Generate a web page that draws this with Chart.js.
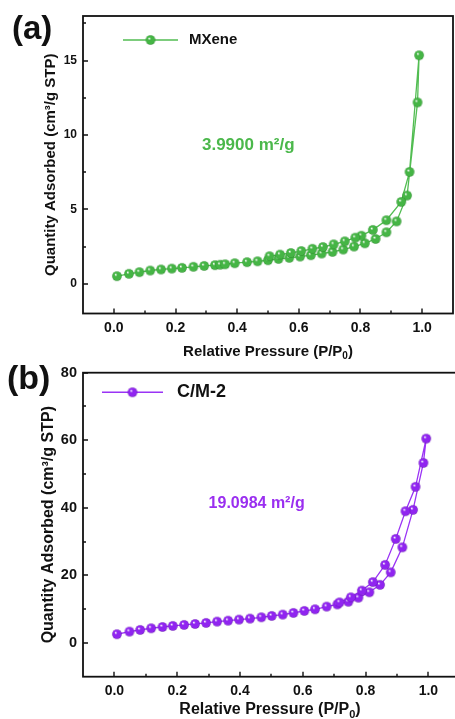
<!DOCTYPE html>
<html>
<head>
<meta charset="utf-8">
<script src="https://cdn.jsdelivr.net/npm/chart.js@4.4.0/dist/chart.umd.min.js"></script>
<style>
  html, body { margin: 0; padding: 0; background: #fff; overflow: hidden; }
  .panel { position: absolute; left: 0; }
  #wrapA { top: 0; }
  #wrapB { top: 360px; }
  canvas { display: block; }
</style>
</head>
<body>
<div class="panel" id="wrapA"><canvas id="chartA" width="455" height="360"></canvas></div>
<div class="panel" id="wrapB"><canvas id="chartB" width="462" height="359"></canvas></div>
<script>
// --- isotherm data (P/P0, cm3/g STP) ---
const pressureTicks = [0, 0.2, 0.4, 0.6, 0.8, 1.0];
const mxeneTicks = [0, 5, 10, 15];
const cmTicks = [0, 20, 40, 60, 80];

const mxeneAdsP = [0.010, 0.049, 0.083, 0.118, 0.153, 0.188, 0.221, 0.258, 0.293, 0.328, 0.345, 0.361, 0.392, 0.432, 0.466, 0.500,
  0.534, 0.569, 0.604, 0.639, 0.674, 0.709, 0.744, 0.779, 0.814, 0.849, 0.884, 0.917, 0.951, 0.985, 0.990];
const mxeneAdsQ = [0.51, 0.67, 0.78, 0.89, 0.96, 1.02, 1.07, 1.14, 1.20, 1.25, 1.28, 1.31, 1.38, 1.45, 1.51, 1.58,
  1.67, 1.74, 1.83, 1.92, 2.03, 2.14, 2.30, 2.50, 2.72, 3.01, 3.46, 4.19, 5.93, 12.19, 15.36];
const mxeneDesP = [0.959, 0.932, 0.884, 0.840, 0.803, 0.783, 0.749, 0.713, 0.678, 0.644, 0.608, 0.574, 0.539, 0.505];
const mxeneDesQ = [7.52, 5.50, 4.27, 3.62, 3.23, 3.10, 2.85, 2.65, 2.47, 2.35, 2.20, 2.07, 1.96, 1.85];

const cmAdsP = [0.008, 0.048, 0.082, 0.117, 0.153, 0.186, 0.222, 0.257, 0.292, 0.327, 0.362, 0.397, 0.432, 0.468, 0.501,
  0.536, 0.570, 0.605, 0.639, 0.676, 0.710, 0.745, 0.777, 0.812, 0.846, 0.880, 0.917, 0.951, 0.984, 0.993];
const cmAdsQ = [2.57, 3.35, 3.85, 4.34, 4.73, 5.03, 5.33, 5.62, 5.92, 6.31, 6.60, 6.90, 7.20, 7.59, 7.99,
  8.38, 8.88, 9.47, 9.96, 10.75, 11.40, 12.20, 13.40, 15.00, 17.20, 20.90, 28.30, 39.40, 53.30, 60.50];
const cmDesP = [0.959, 0.927, 0.896, 0.862, 0.823, 0.788, 0.753, 0.717];
const cmDesQ = [46.2, 39.0, 30.8, 23.1, 18.0, 15.5, 13.5, 12.0];

const FONT = '"Liberation Sans", Arial, Helvetica, sans-serif';

// 3D-looking ball used as point marker
function makeBall(base, dark, r) {
  const s = Math.ceil(r * 2 + 2);
  const c = document.createElement('canvas');
  c.width = c.height = s;
  const g = c.getContext('2d');
  const cx = s / 2, cy = s / 2;
  const grad = g.createRadialGradient(cx - r * 0.3, cy - r * 0.35, r * 0.05, cx, cy, r);
  grad.addColorStop(0, '#ffffff');
  grad.addColorStop(0.3, base);
  grad.addColorStop(0.85, base);
  grad.addColorStop(1, dark);
  g.fillStyle = grad;
  g.beginPath();
  g.arc(cx, cy, r, 0, Math.PI * 2);
  g.fill();
  return c;
}

function toPoints(px, qy) {
  return px.map((p, i) => ({ x: p, y: qy[i] }));
}

// frame + inward ticks (major and minor)
const isoFrame = {
  id: 'isoFrame',
  afterDraw(chart) {
    const { ctx, chartArea: a, scales: { x, y } } = chart;
    ctx.save();
    ctx.strokeStyle = '#111';
    ctx.lineWidth = 1.8;
    ctx.strokeRect(a.left, a.top, a.right - a.left, a.bottom - a.top);
    ctx.lineWidth = 1.4;
    ctx.beginPath();
    const xt = x.ticks.map(t => t.value);
    const yt = y.ticks.map(t => t.value);
    const xm = xt.slice(1).map((v, i) => (v + xt[i]) / 2);
    const ym = yt.slice(1).map((v, i) => (v + yt[i]) / 2);
    const yStep = yt[1] - yt[0];
    if (yt[yt.length - 1] + yStep / 2 < y.max) ym.push(yt[yt.length - 1] + yStep / 2);
    const tx = (v, len) => {
      const px = Math.round(x.getPixelForValue(v));
      ctx.moveTo(px, a.bottom);
      ctx.lineTo(px, a.bottom - len);
    };
    const ty = (v, len) => {
      const py = Math.round(y.getPixelForValue(v));
      ctx.moveTo(a.left, py);
      ctx.lineTo(a.left + len, py);
    };
    xt.forEach(v => tx(v, 5));
    xm.forEach(v => tx(v, 3));
    yt.forEach(v => ty(v, 5));
    ym.forEach(v => ty(v, 3));
    ctx.stroke();
    ctx.restore();
  }
};

// panel letter, axis titles, legend, BET label
const isoDecor = {
  id: 'isoDecor',
  afterDraw(chart, args, o) {
    const { ctx, chartArea: a, scales: { x, y } } = chart;
    const ds = chart.data.datasets[0];
    ctx.save();
    ctx.fillStyle = '#111';
    ctx.textBaseline = 'middle';
    ctx.textAlign = 'left';

    ctx.font = `bold ${o.letterSize}px ${FONT}`;
    ctx.fillText(o.letter, o.letterX, o.letterY);

    // x title with subscript 0
    ctx.font = `bold ${o.titleSize}px ${FONT}`;
    const main = 'Relative Pressure (P/P';
    const subFont = `bold ${Math.round(o.titleSize * 0.68)}px ${FONT}`;
    const w1 = ctx.measureText(main).width;
    ctx.font = subFont;
    const w2 = ctx.measureText('0').width;
    ctx.font = `bold ${o.titleSize}px ${FONT}`;
    const w3 = ctx.measureText(')').width;
    let sx = o.xTitleCx - (w1 + w2 + w3) / 2;
    ctx.fillText(main, sx, o.xTitleY);
    ctx.font = subFont;
    ctx.fillText('0', sx + w1, o.xTitleY + o.titleSize * 0.3);
    ctx.font = `bold ${o.titleSize}px ${FONT}`;
    ctx.fillText(')', sx + w1 + w2, o.xTitleY);

    // y title
    ctx.save();
    ctx.translate(o.yTitleX, (a.top + a.bottom) / 2);
    ctx.rotate(-Math.PI / 2);
    ctx.textAlign = 'center';
    ctx.font = `bold ${o.yTitleSize}px ${FONT}`;
    ctx.fillText('Quantity Adsorbed (cm\u00b3/g STP)', 0, 0);
    ctx.restore();

    // legend
    ctx.strokeStyle = ds.borderColor;
    ctx.lineWidth = 1.6;
    ctx.beginPath();
    ctx.moveTo(o.legX0, o.legY);
    ctx.lineTo(o.legX1, o.legY);
    ctx.stroke();
    const img = ds.pointStyle;
    ctx.drawImage(img, (o.legX0 + o.legX1) / 2 - img.width / 2, o.legY - img.height / 2);
    ctx.font = `bold ${o.legSize}px ${FONT}`;
    ctx.fillStyle = '#111';
    ctx.fillText(ds.label, o.legTextX, o.legY);

    // BET surface area
    ctx.font = `bold ${o.betSize}px ${FONT}`;
    ctx.fillStyle = o.betColor;
    ctx.textAlign = 'center';
    ctx.fillText(o.betText, x.getPixelForValue(o.betAt[0]), y.getPixelForValue(o.betAt[1]));
    ctx.restore();
  }
};

function makePanel(canvasId, p) {
  const ball = makeBall(p.color, p.dark, 4.8);
  return new Chart(document.getElementById(canvasId), {
    type: 'scatter',
    data: {
      datasets: [{
        label: p.label,
        data: toPoints(p.adsP, p.adsQ).concat(toPoints(p.desP, p.desQ)),
        showLine: true,
        borderColor: p.line,
        borderWidth: 1.3,
        pointStyle: ball,
        pointRadius: 5,
        pointHoverRadius: 5,
        tension: 0
      }]
    },
    options: {
      responsive: false,
      animation: false,
      devicePixelRatio: 1,
      layout: { autoPadding: false, padding: { left: 0, top: p.padTop, right: p.padRight, bottom: 0 } },
      scales: {
        x: {
          type: 'linear',
          min: -0.1,
          max: 1.1,
          grid: { display: false, drawTicks: false },
          border: { display: false },
          afterBuildTicks: s => { s.ticks = pressureTicks.map(v => ({ value: v })); },
          afterFit: s => { s.height = p.xAxisH; s.paddingLeft = 0; s.paddingRight = 0; },
          ticks: {
            color: '#111',
            padding: p.xTickPad,
            maxRotation: 0,
            font: { family: FONT, size: p.xTickSize, weight: 'bold' },
            callback: v => Number(v).toFixed(1)
          }
        },
        y: {
          type: 'linear',
          min: p.yMin,
          max: p.yMax,
          grid: { display: false, drawTicks: false },
          border: { display: false },
          afterBuildTicks: s => { s.ticks = p.yTicks.map(v => ({ value: v })); },
          afterFit: s => { s.width = 83; s.paddingTop = 0; s.paddingBottom = 0; },
          ticks: {
            color: '#111',
            padding: 6,
            font: { family: FONT, size: p.yTickSize, weight: 'bold' },
            callback: v => String(v)
          }
        }
      },
      plugins: {
        legend: { display: false },
        tooltip: { enabled: false },
        isoDecor: p.decor
      }
    },
    plugins: [isoFrame, isoDecor]
  });
}

makePanel('chartA', {
  label: 'MXene',
  color: '#45b545', dark: '#2a8a2a', line: '#52bd52',
  adsP: mxeneAdsP, adsQ: mxeneAdsQ, desP: mxeneDesP, desQ: mxeneDesQ,
  yMin: -2, yMax: 18, yTicks: mxeneTicks,
  padTop: 16, padRight: 2, xAxisH: 46.5, xTickPad: 6, xTickSize: 14, yTickSize: 12,
  decor: {
    letter: '(a)', letterX: 12, letterY: 30, letterSize: 33,
    titleSize: 15, xTitleCx: 268, xTitleY: 352,
    yTitleX: 51, yTitleSize: 15,
    legX0: 123, legX1: 178, legY: 40, legTextX: 189, legSize: 15,
    betText: '3.9900 m\u00b2/g', betColor: '#4bb84b', betSize: 17, betAt: [0.436, 9.33]
  }
});

makePanel('chartB', {
  label: 'C/M-2',
  color: '#9024f0', dark: '#6512b0', line: '#9a33f5',
  adsP: cmAdsP, adsQ: cmAdsQ, desP: cmDesP, desQ: cmDesQ,
  yMin: -10, yMax: 80, yTicks: cmTicks,
  padTop: 12.7, padRight: 2.2, xAxisH: 42.3, xTickPad: 6, xTickSize: 14, yTickSize: 14.5,
  decor: {
    letter: '(b)', letterX: 7, letterY: 20, letterSize: 34,
    titleSize: 16, xTitleCx: 270, xTitleY: 350,
    yTitleX: 49, yTitleSize: 16,
    legX0: 102, legX1: 163, legY: 32.3, legTextX: 177, legSize: 18,
    betText: '19.0984 m\u00b2/g', betColor: '#9a2ef0', betSize: 16, betAt: [0.453, 41.3]
  }
});
</script>
</body>
</html>
